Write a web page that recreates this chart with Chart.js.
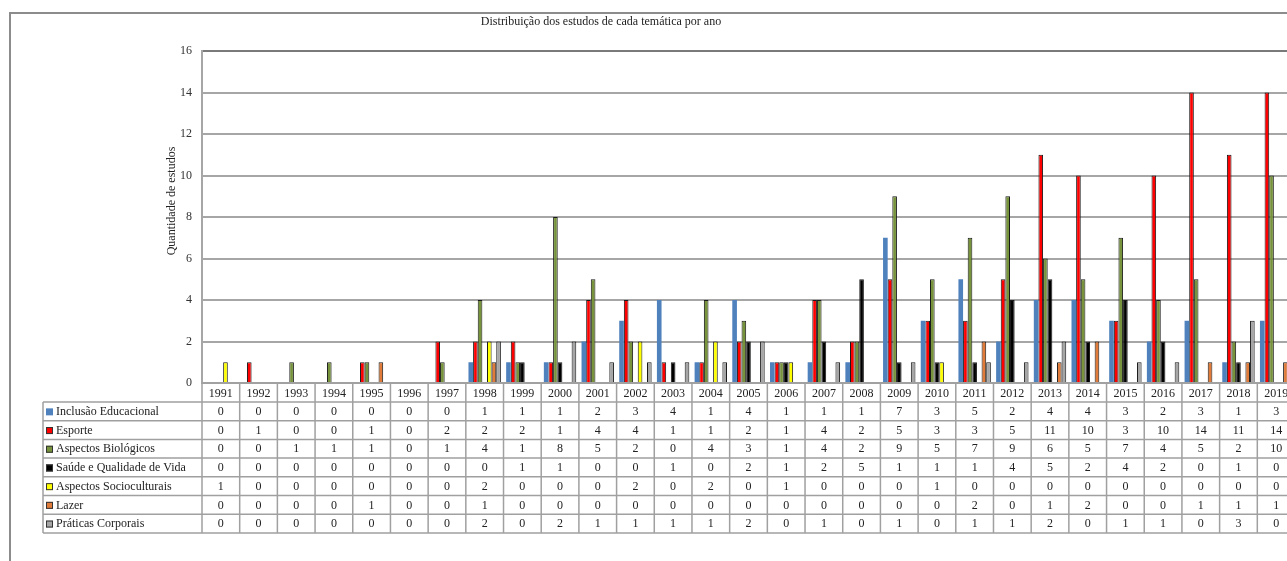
<!DOCTYPE html>
<html>
<head>
<meta charset="utf-8">
<script src="https://cdn.jsdelivr.net/npm/chart.js@4.4.1/dist/chart.umd.min.js"></script>
<style>
  html, body { margin: 0; padding: 0; background: #fff; overflow: hidden; }
  #wrap { position: relative; width: 1287px; height: 561px; overflow: hidden; }
  canvas { position: absolute; left: 0; top: 0; }
</style>
</head>
<body>
<div id="wrap"><canvas id="estudosChart" width="1310" height="561"></canvas></div>
<script>
const anos = ['1991', '1992', '1993', '1994', '1995', '1996', '1997', '1998', '1999', '2000',
  '2001', '2002', '2003', '2004', '2005', '2006', '2007', '2008', '2009', '2010',
  '2011', '2012', '2013', '2014', '2015', '2016', '2017', '2018', '2019'];

const inclusaoEducacional = [0, 0, 0, 0, 0, 0, 0, 1, 1, 1, 2, 3, 4, 1, 4, 1, 1, 1, 7, 3, 5, 2, 4, 4, 3, 2, 3, 1, 3];
const esporte = [0, 1, 0, 0, 1, 0, 2, 2, 2, 1, 4, 4, 1, 1, 2, 1, 4, 2, 5, 3, 3, 5, 11, 10, 3, 10, 14, 11, 14];
const aspectosBiologicos = [0, 0, 1, 1, 1, 0, 1, 4, 1, 8, 5, 2, 0, 4, 3, 1, 4, 2, 9, 5, 7, 9, 6, 5, 7, 4, 5, 2, 10];
const saudeQualidadeVida = [0, 0, 0, 0, 0, 0, 0, 0, 1, 1, 0, 0, 1, 0, 2, 1, 2, 5, 1, 1, 1, 4, 5, 2, 4, 2, 0, 1, 0];
const aspectosSocioculturais = [1, 0, 0, 0, 0, 0, 0, 2, 0, 0, 0, 2, 0, 2, 0, 1, 0, 0, 0, 1, 0, 0, 0, 0, 0, 0, 0, 0, 0];
const lazer = [0, 0, 0, 0, 1, 0, 0, 1, 0, 0, 0, 0, 0, 0, 0, 0, 0, 0, 0, 0, 2, 0, 1, 2, 0, 0, 1, 1, 1];
const praticasCorporais = [0, 0, 0, 0, 0, 0, 0, 2, 0, 2, 1, 1, 1, 1, 2, 0, 1, 0, 1, 0, 1, 1, 2, 0, 1, 1, 0, 3, 0];

const nomesSeries = ['Inclusão Educacional', 'Esporte', 'Aspectos Biológicos', 'Saúde e Qualidade de Vida',
  'Aspectos Socioculturais', 'Lazer', 'Práticas Corporais'];
const valoresSeries = [inclusaoEducacional, esporte, aspectosBiologicos, saudeQualidadeVida,
  aspectosSocioculturais, lazer, praticasCorporais];
const cores = ['#4F81BD', '#FF0000', '#77933C', '#000000', '#FFFF00', '#E07B39', '#A6A6A6'];

const fonte = "'Liberation Serif', 'Times New Roman', serif";

// Títulos, borda externa e tabela de dados desenhados à mão (estilo Excel)
const tabelaPlugin = {
  id: 'tabelaDados',
  beforeDraw(chart) {
    const ctx = chart.ctx;
    ctx.save();
    ctx.strokeStyle = '#8c8c8c';
    ctx.lineWidth = 2;
    ctx.beginPath();
    ctx.moveTo(10, 561);
    ctx.lineTo(10, 13);
    ctx.lineTo(chart.width, 13);
    ctx.stroke();
    ctx.restore();
  },
  afterDraw(chart) {
    const ctx = chart.ctx;
    const x = chart.scales.x;
    const area = chart.chartArea;
    const larg = (area.right - area.left) / anos.length;
    const topo = area.bottom;
    const cab = 19;
    const linha = 18.7;
    const esq = 43;
    const fim = topo + cab + linha * nomesSeries.length;

    ctx.save();

    // título
    ctx.fillStyle = '#222';
    ctx.font = '12px ' + fonte;
    ctx.textAlign = 'center';
    ctx.textBaseline = 'middle';
    ctx.fillText('Distribuição dos estudos de cada temática por ano', 601, 22);

    // título do eixo y
    ctx.save();
    ctx.translate(172, 201);
    ctx.rotate(-Math.PI / 2);
    ctx.fillText('Quantidade de estudos', 0, 0);
    ctx.restore();

    // linhas da tabela
    ctx.strokeStyle = '#a0a0a0';
    ctx.lineWidth = 1.5;
    ctx.beginPath();
    ctx.moveTo(area.left, topo);
    ctx.lineTo(area.right, topo);
    for (let r = 0; r <= nomesSeries.length; r++) {
      const y = topo + cab + r * linha;
      ctx.moveTo(esq, y);
      ctx.lineTo(area.right, y);
    }
    ctx.moveTo(esq, topo + cab);
    ctx.lineTo(esq, fim);
    for (let i = 0; i <= anos.length; i++) {
      const xx = area.left + i * larg;
      ctx.moveTo(xx, topo);
      ctx.lineTo(xx, fim);
    }
    ctx.stroke();

    // anos no cabeçalho
    ctx.fillStyle = '#222';
    anos.forEach((ano, i) => {
      ctx.fillText(ano, x.getPixelForValue(i), topo + cab / 2 + 1);
    });

    // linhas de valores com legenda
    nomesSeries.forEach((nome, r) => {
      const yc = topo + cab + r * linha + linha / 2 + 0.5;
      ctx.fillStyle = cores[r];
      ctx.fillRect(46, yc - 3.5, 7, 7);
      if (r !== 0) {
        ctx.strokeStyle = '#333';
        ctx.lineWidth = 1;
        ctx.strokeRect(46.5, yc - 3, 6, 6);
      }
      ctx.fillStyle = '#222';
      ctx.textAlign = 'left';
      ctx.fillText(nome, 56, yc);
      ctx.textAlign = 'center';
      valoresSeries[r].forEach((v, i) => {
        ctx.fillText(String(v), x.getPixelForValue(i), yc);
      });
    });

    ctx.restore();
  }
};

const ctx = document.getElementById('estudosChart').getContext('2d');

const data = {
  labels: anos,
  datasets: nomesSeries.map((nome, k) => ({
    label: nome,
    data: valoresSeries[k],
    backgroundColor: cores[k],
    borderColor: '#1a1a1a',
    borderWidth: k === 0 ? 0 : 1,
    categoryPercentage: 0.86,
    barPercentage: 1,
  })),
};

const config = {
  type: 'bar',
  data: data,
  options: {
    responsive: false,
    animation: false,
    devicePixelRatio: 1,
    layout: {
      padding: { left: 160, top: 51, right: 15, bottom: 178 },
    },
    scales: {
      x: {
        display: false,
      },
      y: {
        min: 0,
        max: 16,
        ticks: {
          stepSize: 2,
          padding: 10,
          color: '#333',
          font: { family: fonte, size: 12 },
        },
        grid: {
          drawTicks: false,
          lineWidth: 2,
          color: (c) => (c.tick && c.tick.value === 16 ? '#7a7a7a' : '#a6a6a6'),
        },
        border: {
          color: '#a6a6a6',
          width: 2,
        },
        afterFit: (scale) => {
          scale.width = 42;
        },
      },
    },
    plugins: {
      legend: { display: false },
      tooltip: { enabled: false },
    },
  },
  plugins: [tabelaPlugin],
};

new Chart(ctx, config);
</script>
</body>
</html>
